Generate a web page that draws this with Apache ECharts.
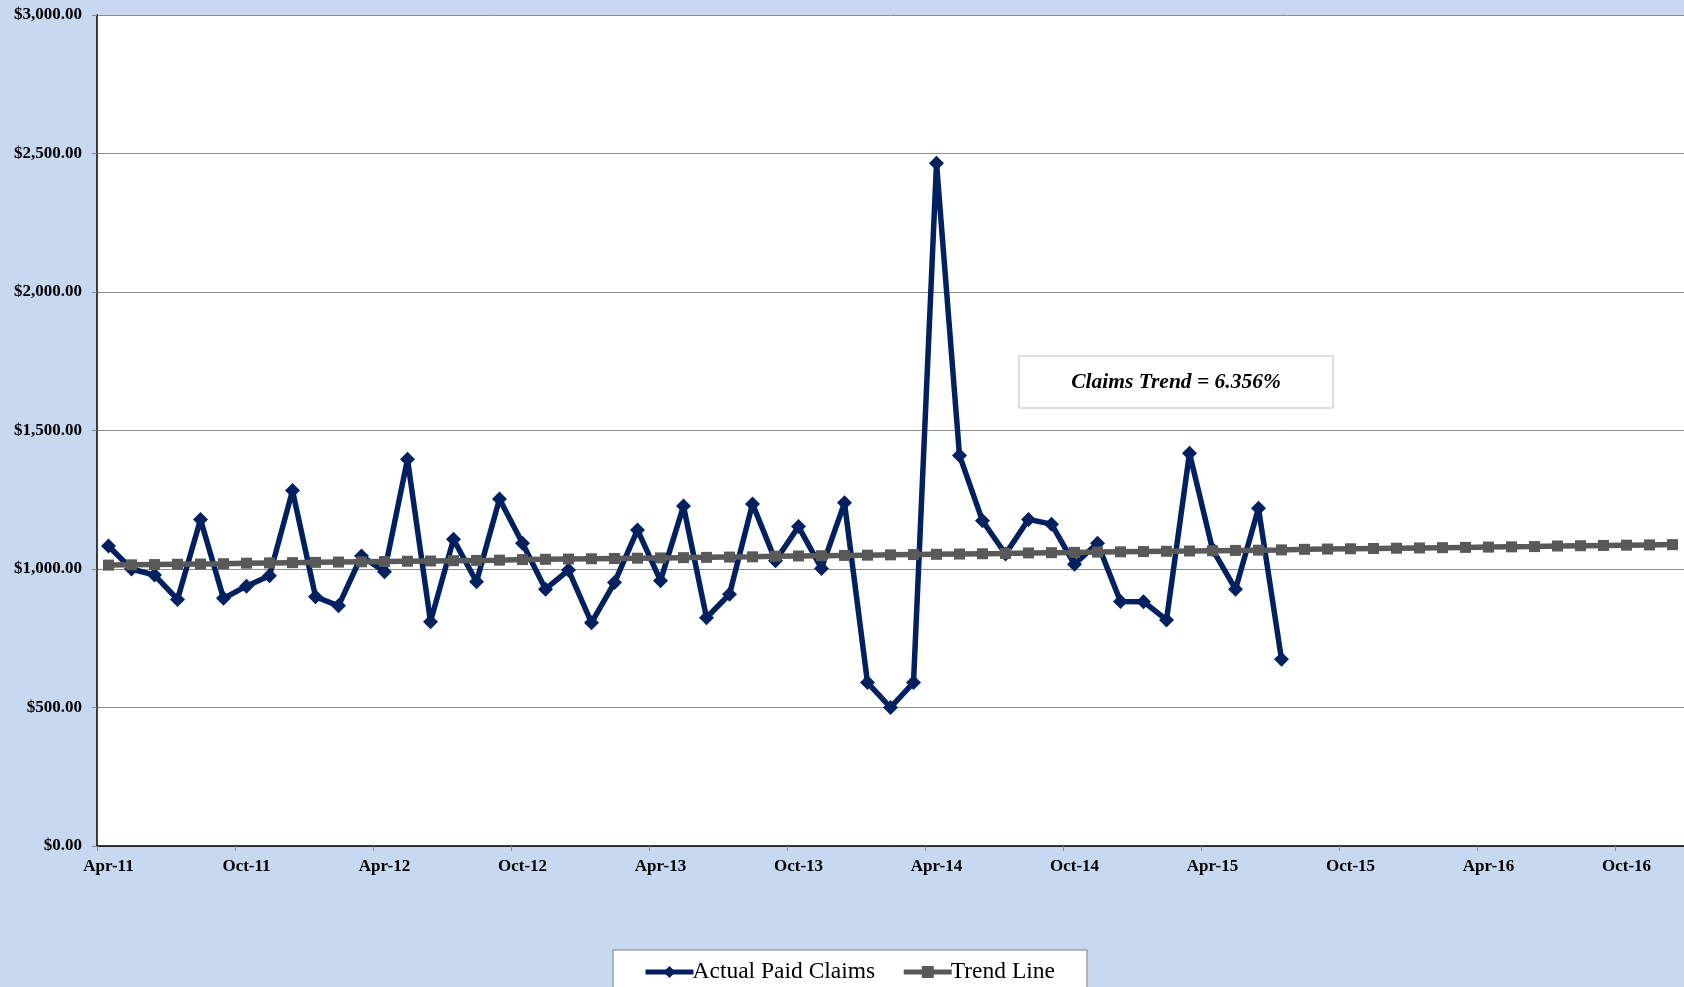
<!DOCTYPE html>
<html>
<head>
<meta charset="utf-8">
<title>Actual Paid Claims vs Trend Line</title>
<script src="https://cdn.jsdelivr.net/npm/echarts@6/dist/echarts.min.js"></script>
<style>
  html, body { margin: 0; padding: 0; background: #C6D9F0; }
  #chart { width: 1684px; height: 987px; }
</style>
</head>
<body>
<div id="chart"></div>
<script>
// Monthly categories, Apr-11 through Dec-16
const months = [
  'Apr-11','May-11','Jun-11','Jul-11','Aug-11','Sep-11','Oct-11','Nov-11','Dec-11',
  'Jan-12','Feb-12','Mar-12','Apr-12','May-12','Jun-12','Jul-12','Aug-12','Sep-12','Oct-12','Nov-12','Dec-12',
  'Jan-13','Feb-13','Mar-13','Apr-13','May-13','Jun-13','Jul-13','Aug-13','Sep-13','Oct-13','Nov-13','Dec-13',
  'Jan-14','Feb-14','Mar-14','Apr-14','May-14','Jun-14','Jul-14','Aug-14','Sep-14','Oct-14','Nov-14','Dec-14',
  'Jan-15','Feb-15','Mar-15','Apr-15','May-15','Jun-15','Jul-15','Aug-15','Sep-15','Oct-15','Nov-15','Dec-15',
  'Jan-16','Feb-16','Mar-16','Apr-16','May-16','Jun-16','Jul-16','Aug-16','Sep-16','Oct-16','Nov-16','Dec-16'
];

// Actual paid claims per month (Apr-11 .. Jul-15)
const actualPaidClaims = [
  1083, 1000, 978, 890, 1179, 894, 938, 976, 1283, 900,
  867, 1047, 990, 1396, 810, 1107, 954, 1253, 1093, 927,
  996, 806, 951, 1141, 958, 1227, 824, 909, 1235, 1030,
  1153, 1002, 1239, 590, 500, 590, 2465, 1410, 1174, 1054,
  1179, 1162, 1017, 1093, 883, 882, 816, 1418, 1071, 927,
  1219, 674
];

// Fitted trend line values (Apr-11 .. Dec-16)
const trendLine = [
  1014, 1015, 1016, 1017, 1018, 1019, 1021, 1022, 1023, 1024,
  1025, 1026, 1027, 1028, 1029, 1030, 1031, 1032, 1034, 1035,
  1036, 1037, 1038, 1039, 1040, 1041, 1042, 1043, 1044, 1046,
  1047, 1048, 1049, 1050, 1051, 1052, 1053, 1054, 1055, 1056,
  1058, 1059, 1060, 1061, 1062, 1063, 1064, 1065, 1066, 1067,
  1068, 1069, 1071, 1072, 1073, 1074, 1075, 1076, 1077, 1078,
  1079, 1080, 1081, 1083, 1084, 1085, 1086, 1087, 1088
];

const trendNote = 'Claims Trend = 6.356%';

const serif = '"Liberation Serif", "Times New Roman", serif';

const chart = echarts.init(document.getElementById('chart'), null, { renderer: 'canvas' });

chart.setOption({
  animation: false,
  backgroundColor: '#C6D9F0',
  grid: {
    left: 97, right: 0, top: 15, bottom: 141,
    show: true, backgroundColor: '#ffffff', borderWidth: 0
  },
  xAxis: {
    type: 'category',
    data: months,
    boundaryGap: true,
    axisLine: { show: true, lineStyle: { color: '#000000', width: 1.5 } },
    axisTick: { show: true, interval: 5, alignWithLabel: false, length: 5, lineStyle: { color: '#888888' } },
    axisLabel: {
      interval: 5, margin: 12,
      fontFamily: serif, fontWeight: 'bold', fontSize: 17, color: '#000000'
    },
    splitLine: { show: false }
  },
  yAxis: {
    type: 'value',
    min: 0, max: 3000, interval: 500,
    axisLine: { show: true, lineStyle: { color: '#000000', width: 1.5 } },
    axisTick: { show: true, length: 5, lineStyle: { color: '#888888' } },
    axisLabel: {
      margin: 15,
      fontFamily: serif, fontWeight: 'bold', fontSize: 17, color: '#000000',
      formatter: v => '$' + v.toLocaleString('en-US', { minimumFractionDigits: 2, maximumFractionDigits: 2 })
    },
    splitLine: { show: true, lineStyle: { color: '#8c8c8c', width: 1 } }
  },
  legend: {
    data: ['Actual Paid Claims', 'Trend Line'],
    left: 638, top: 955,
    itemWidth: 48, itemHeight: 15, itemGap: 26,
    lineStyle: { width: 5 },
    textStyle: { fontFamily: serif, fontSize: 23.5, color: '#000000', padding: [0, 0, 0, -6] }
  },
  graphic: [
    {
      type: 'rect', z: -1, silent: true,
      shape: { x: 613, y: 950, width: 474, height: 60 },
      style: { fill: '#ffffff', stroke: '#7f7f7f', lineWidth: 1 }
    },
    {
      type: 'group', silent: true,
      children: [
        {
          type: 'rect',
          shape: { x: 1019, y: 356, width: 314, height: 52 },
          style: { fill: '#ffffff', stroke: '#bfbfbf', lineWidth: 1 }
        },
        {
          type: 'text',
          x: 1176, y: 382,
          style: {
            text: trendNote,
            font: 'italic bold 21.5px ' + serif,
            fill: '#000000',
            align: 'center', verticalAlign: 'middle'
          }
        }
      ]
    }
  ],
  series: [
    {
      name: 'Actual Paid Claims',
      type: 'line',
      data: actualPaidClaims,
      symbol: 'diamond',
      symbolSize: 15,
      showAllSymbol: true,
      z: 2,
      lineStyle: { color: '#002060', width: 5.5 },
      itemStyle: { color: '#002060' }
    },
    {
      name: 'Trend Line',
      type: 'line',
      data: trendLine,
      symbol: 'rect',
      symbolSize: 11,
      showAllSymbol: true,
      z: 3,
      lineStyle: { color: '#595959', width: 5.5 },
      itemStyle: { color: '#595959' }
    }
  ]
});
</script>
</body>
</html>
